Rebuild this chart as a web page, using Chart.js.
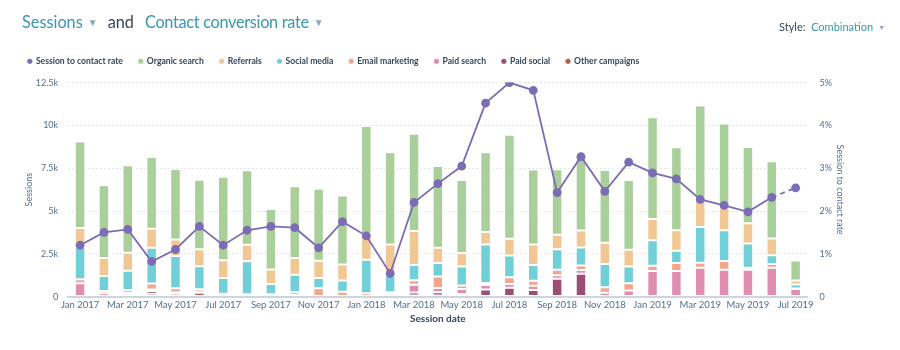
<!DOCTYPE html>
<html>
<head>
<meta charset="utf-8">
<script src="https://cdn.jsdelivr.net/npm/chart.js@4"></script>
<style>
  html, body { margin: 0; padding: 0; background: #fff; }
  #wrap { position: relative; width: 900px; height: 350px; font-family: Lato, "Open Sans", sans-serif; }
  #c { position: absolute; left: 0; top: 0; }
  .hdr { position: absolute; left: 22px; top: 12px; font-size: 16.3px; color: #33475b; white-space: nowrap; }
  .lnk { color: #3a97b0; }
  .car { color: #8ea6bd; font-size: 10px; vertical-align: 2px; margin-left: 5px; }
  .and { margin: 0 11px 0 10px; }
  .sty { position: absolute; left: 779px; top: 20px; font-size: 11px; color: #33475b; white-space: nowrap; }
</style>
</head>
<body>
<div id="wrap">
  <canvas id="c" width="900" height="350"></canvas>
  <div class="hdr"><span class="lnk">Sessions</span><span class="car">&#9660;</span><span class="and">and</span><span class="lnk" style="letter-spacing:-0.3px">Contact conversion rate</span><span class="car">&#9660;</span></div>
  <div class="sty">Style:&nbsp; <span class="lnk">Combination</span><span class="car" style="font-size:7px;vertical-align:1px">&#9660;</span></div>
</div>
<script>
const months = ["Jan 2017","Feb 2017","Mar 2017","Apr 2017","May 2017","Jun 2017","Jul 2017","Aug 2017","Sep 2017","Oct 2017","Nov 2017","Dec 2017",
  "Jan 2018","Feb 2018","Mar 2018","Apr 2018","May 2018","Jun 2018","Jul 2018","Aug 2018","Sep 2018","Oct 2018","Nov 2018","Dec 2018",
  "Jan 2019","Feb 2019","Mar 2019","Apr 2019","May 2019","Jun 2019","Jul 2019"];
const organicSearch = [5050,4240,5110,4190,4130,4070,4870,4350,3520,4190,4200,4030,6280,5380,5680,4770,4270,4650,6080,4390,3820,4420,4250,4070,5930,4860,5340,4910,4460,4510,1170];
const referrals     = [1110,1050,1050,1110,960,980,1050,960,850,980,1020,940,1530,1820,1990,900,780,730,980,1190,860,990,1250,980,1250,1190,1760,1320,1180,970,240];
const socialMedia   = [1880,880,1120,2100,1880,1350,920,1930,600,1020,590,650,1950,980,880,790,1110,2250,1270,920,1190,1060,1350,980,1490,720,2090,1800,1410,510,230];
const emailMarketing= [240,130,170,340,250,150,160,140,100,150,450,250,160,100,270,670,200,120,390,290,330,250,330,430,310,470,290,510,120,230,20];
const paidSearch    = [780,200,100,100,40,40,0,0,40,40,40,40,40,150,450,250,300,270,230,250,200,230,220,350,1490,1490,1680,1570,1570,1680,450];
const paidSocial    = [0,0,80,160,40,20,0,0,0,60,0,0,0,0,180,190,150,410,510,390,1040,1330,0,0,0,0,0,0,0,0,0];
const otherCampaigns= [0,0,40,160,160,220,0,0,0,0,0,0,0,0,60,60,0,0,0,0,0,0,0,0,0,0,0,0,0,0,0];
const sessionToContactRate = [1.2,1.5,1.57,0.82,1.1,1.64,1.2,1.55,1.64,1.61,1.14,1.75,1.42,0.54,2.2,2.64,3.05,4.52,5.0,4.82,2.43,3.27,2.46,3.14,2.89,2.75,2.27,2.13,1.98,2.32,2.54];
const sessionTicks = [0,2500,5000,7500,10000,12500];

const barBase = { type: 'bar', yAxisID: 'y', stack: 's', borderColor: 'rgba(255,255,255,0.85)', borderWidth: 1, borderSkipped: false, categoryPercentage: 0.44, barPercentage: 1, order: 1 };
const purple = '#7c6cb6';
const datasets = [
  { type: 'line', label: 'Session to contact rate', data: sessionToContactRate, yAxisID: 'y1', order: 0,
    borderColor: purple, backgroundColor: purple, pointBackgroundColor: purple, pointBorderColor: purple,
    pointRadius: 3.5, pointHoverRadius: 3.5, borderWidth: 1.8, tension: 0, fill: false,
    segment: { borderDash: ctx => ctx.p1DataIndex === sessionToContactRate.length - 1 ? [5, 4] : undefined } },
  Object.assign({ label: 'Other campaigns', data: otherCampaigns, backgroundColor: '#b45f50' }, barBase),
  Object.assign({ label: 'Paid social', data: paidSocial, backgroundColor: '#9d4f73' }, barBase),
  Object.assign({ label: 'Paid search', data: paidSearch, backgroundColor: '#e08eb0' }, barBase),
  Object.assign({ label: 'Email marketing', data: emailMarketing, backgroundColor: '#f4a58d' }, barBase),
  Object.assign({ label: 'Social media', data: socialMedia, backgroundColor: '#70cfd7' }, barBase),
  Object.assign({ label: 'Referrals', data: referrals, backgroundColor: '#f1c893' }, barBase),
  Object.assign({ label: 'Organic search', data: organicSearch, backgroundColor: '#a9d09a' }, barBase)
];

const legendKey = item => item.datasetIndex === 0 ? -100 : -item.datasetIndex;

const legendGap = {
  id: 'legendGap',
  beforeInit(chart) {
    const origFit = chart.legend.fit;
    chart.legend.fit = function () { origFit.bind(chart.legend)(); this.height += 7; };
  }
};

new Chart(document.getElementById('c'), {
  data: { labels: months, datasets: datasets },
  plugins: [legendGap],
  options: {
    responsive: false,
    animation: false,
    layout: { padding: { top: 41, left: 12, right: 50, bottom: 25 } },
    plugins: {
      tooltip: { enabled: false },
      legend: {
        position: 'top', align: 'start',
        labels: {
          usePointStyle: true, pointStyle: 'circle', boxWidth: 3.6, boxHeight: 3.6, padding: 16,
          color: '#33475b', font: { family: 'Lato', size: 8.6, weight: 'bold' },
          generateLabels: chart => Chart.defaults.plugins.legend.labels.generateLabels(chart).map(l => Object.assign(l, { lineWidth: 0, strokeStyle: 'rgba(0,0,0,0)', fillStyle: chart.data.datasets[l.datasetIndex].backgroundColor })),
          sort: (a, b) => legendKey(a) - legendKey(b)
        }
      }
    },
    scales: {
      x: {
        stacked: true,
        grid: { display: true, color: 'rgba(0,0,0,0)', drawTicks: false },
        border: { display: true, color: '#cbd6e2', width: 2 },
        ticks: { autoSkip: false, maxRotation: 0, color: '#516f90', font: { family: 'Lato', size: 9.5 }, padding: 3,
          callback: function(v, i) { return i % 2 === 0 ? this.getLabelForValue(v) : ''; } },
        title: { display: true, text: 'Session date', color: '#33475b', font: { family: 'Lato', size: 10, weight: 'bold' }, padding: { top: -1, bottom: 0 } }
      },
      y: {
        stacked: true, position: 'left', min: 0, max: 12500,
        afterBuildTicks: axis => { axis.ticks = sessionTicks.map(v => ({ value: v })); },
        grid: { color: '#e1e6ec', drawTicks: false, lineWidth: 1 },
        border: { display: false, dash: [2, 2] },
        ticks: { color: '#516f90', font: { family: 'Lato', size: 9 }, padding: 10,
          callback: v => v === 0 ? '0' : (v / 1000) + 'k' },
        title: { display: true, text: 'Sessions', color: '#516f90', font: { family: 'Lato', size: 9 }, padding: { top: 12, bottom: -9 } }
      },
      y1: {
        position: 'right', min: 0, max: 5,
        grid: { display: false, drawTicks: false },
        border: { display: false },
        ticks: { stepSize: 1, color: '#516f90', font: { family: 'Lato', size: 9 }, padding: 12,
          callback: v => v === 0 ? '0' : v + '%' },
        title: { display: true, text: 'Session to contact rate', color: '#516f90', font: { family: 'Lato', size: 9 }, padding: { top: 4.6, bottom: -9.4 } }
      }
    }
  }
});
</script>
</body>
</html>
